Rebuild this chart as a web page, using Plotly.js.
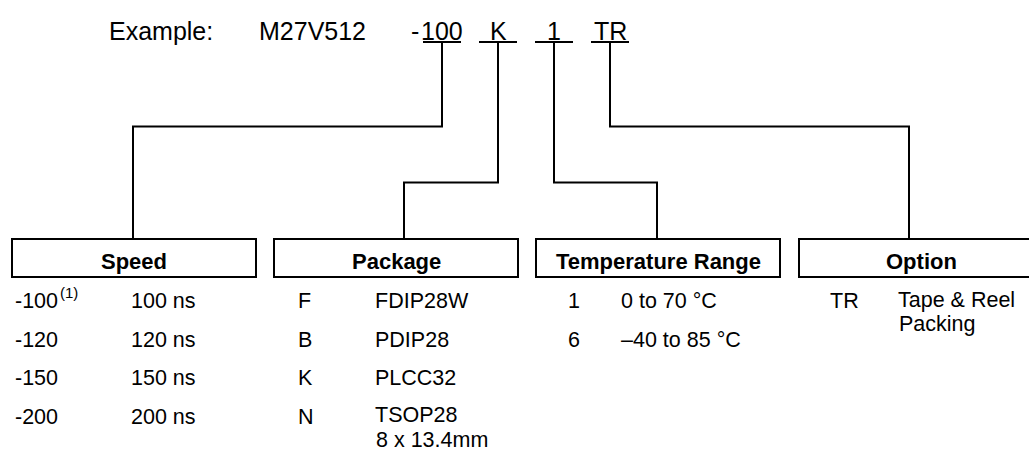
<!DOCTYPE html>
<html>
<head>
<meta charset="utf-8">
<script src="https://cdn.plot.ly/plotly-3.0.1.min.js"></script>
<style>
  html, body { margin: 0; padding: 0; background: #fff; }
  #chart { width: 1029px; height: 451px; }
</style>
</head>
<body>
<div id="chart"></div>
<script>
// ---------- content ----------
const exampleLabel = 'Example:';
const deviceName = 'M27V512';
const partPrefix = '-';
const partCodes = ['100', 'K', '1', 'TR'];

const headers = ['Speed', 'Package', 'Temperature Range', 'Option'];

const speedCodes = ['-100', '-120', '-150', '-200'];
const speedNotes = ['(1)', '', '', ''];
const speedDesc = [['100 ns'], ['120 ns'], ['150 ns'], ['200 ns']];

const packageCodes = ['F', 'B', 'K', 'N'];
const packageDesc = [['FDIP28W'], ['PDIP28'], ['PLCC32'], ['TSOP28', '8 x 13.4mm']];

const tempCodes = ['1', '6'];
const tempDesc = [['0 to 70 °C'], ['–40 to 85 °C']];

const optionCodes = ['TR'];
const optionDesc = [['Tape & Reel', 'Packing']];

// ---------- layout (pixel-like coordinates on hidden axes) ----------
const W = 1029, H = 451;
const FONT = 'Liberation Sans, Arial, Helvetica, sans-serif';
const topSize = 25, rowSize = 21.5, headSize = 22, noteSize = 15;
const lw = 2;

const topBase = 40;
const underlineY = 42;
const underlineLeft = [423, 479, 535, 591];
const underlineW = 38;
const elbowY = [126.5, 182.5, 182.5, 126.5];
const boxConnX = [133, 404, 657, 909];

const boxLeft = [12, 274, 536, 799];
const boxW = 244;
const boxTop = 239, boxBot = 277;
const headBase = 269;

const codeX = [14, 297, 567, 829];
const descX = [130, 374, 620, 897];
const rowBase0 = 309, rowStep = 38.5, lineStep = 24.5, multiShift = -1.5;

function mid(base, size) { return base - 0.35 * size; }

const annotations = [];
const shapes = [];

function addText(txt, x, base, size, anchor, bold) {
  annotations.push({
    text: bold ? '<b>' + txt + '</b>' : txt,
    x: x, y: mid(base, size), xref: 'x', yref: 'y',
    xanchor: anchor, yanchor: 'middle', showarrow: false,
    font: { family: FONT, size: size, color: '#000' },
    borderpad: 0
  });
}

// top example line
addText(exampleLabel, 108, topBase, topSize, 'left');
addText(deviceName, 258, topBase, topSize, 'left');
addText(partPrefix, 410, topBase, topSize, 'left');
partCodes.forEach((c, i) => {
  const cx = underlineLeft[i] + underlineW / 2;
  addText(c, cx, topBase, topSize, 'center');
  shapes.push({ type: 'line', xref: 'x', yref: 'y',
    x0: underlineLeft[i], x1: underlineLeft[i] + underlineW, y0: underlineY, y1: underlineY,
    line: { color: '#000', width: lw } });
  const path = `M ${cx},${underlineY} L ${cx},${elbowY[i]} L ${boxConnX[i]},${elbowY[i]} L ${boxConnX[i]},${boxTop}`;
  shapes.push({ type: 'path', xref: 'x', yref: 'y', path: path,
    line: { color: '#000', width: lw }, fillcolor: 'rgba(0,0,0,0)' });
});

// header boxes
headers.forEach((h, i) => {
  shapes.push({ type: 'rect', xref: 'x', yref: 'y',
    x0: boxLeft[i], x1: boxLeft[i] + boxW, y0: boxTop, y1: boxBot,
    line: { color: '#000', width: lw }, fillcolor: 'rgba(0,0,0,0)' });
  addText(h, boxLeft[i] + boxW / 2, headBase, headSize, 'center', true);
});

// table rows
function addColumn(col, codes, descs) {
  codes.forEach((c, r) => {
    const base = rowBase0 + r * rowStep;
    addText(c, codeX[col], base, rowSize, 'left');
    const multi = descs[r].length > 1;
    descs[r].forEach((line, k) => {
      const b = base + (multi ? multiShift : 0) + k * lineStep;
      addText(line, descX[col] + (k > 0 ? 1 : 0), b, rowSize, 'left');
    });
  });
}
addColumn(0, speedCodes, speedDesc);
addColumn(1, packageCodes, packageDesc);
addColumn(2, tempCodes, tempDesc);
addColumn(3, optionCodes, optionDesc);

speedNotes.forEach((n, r) => {
  if (!n) return;
  addText(n, 59, rowBase0 + r * rowStep - 11, noteSize, 'left');
});

const layout = {
  width: W, height: H,
  margin: { l: 0, r: 0, t: 0, b: 0, pad: 0 },
  paper_bgcolor: '#fff', plot_bgcolor: '#fff',
  showlegend: false,
  xaxis: { range: [0, W], visible: false, fixedrange: true },
  yaxis: { range: [H, 0], visible: false, fixedrange: true },
  shapes: shapes,
  annotations: annotations
};

Plotly.newPlot('chart', [{ x: [], y: [], type: 'scatter', mode: 'markers', hoverinfo: 'skip' }], layout,
  { staticPlot: true, displayModeBar: false });
</script>
</body>
</html>
